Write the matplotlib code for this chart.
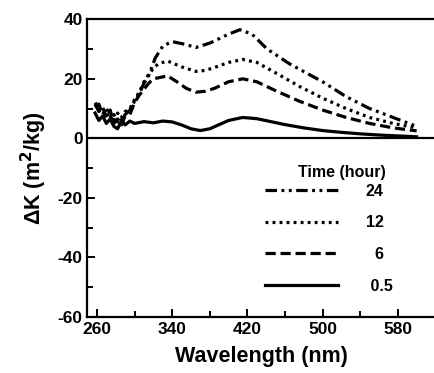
import matplotlib
matplotlib.use("Agg")
import matplotlib.pyplot as plt

plt.rcParams["font.family"] = ["Liberation Sans", "DejaVu Sans"]
plt.rcParams["font.weight"] = "bold"
plt.rcParams["axes.unicode_minus"] = False   # the original prints "-20", not a true minus

# --- data (wavelength nm, delta K m^2/kg) ---
wl_05 = [258, 262, 266, 270, 274, 278, 282, 286, 290, 295, 300, 310, 320, 330,
         340, 350, 360, 370, 380, 390, 400, 415, 430, 445, 460, 480, 500, 520,
         540, 560, 580, 600]
dk_05 = [8.5, 6.0, 7.5, 5.0, 6.5, 4.0, 3.2, 6.0, 4.5, 5.8, 5.0, 5.6, 5.2, 5.8,
         5.5, 4.5, 3.2, 2.6, 3.2, 4.6, 6.0, 7.0, 6.6, 5.6, 4.6, 3.5, 2.6, 2.0,
         1.5, 1.1, 0.8, 0.5]

wl_6 = [258, 262, 266, 270, 274, 278, 282, 286, 290, 295, 300, 305, 310, 315,
        320, 328, 335, 345, 355, 365, 375, 385, 400, 415, 430, 450, 475, 500,
        525, 550, 575, 600]
dk_6 = [11.5, 9.0, 10.5, 7.0, 9.5, 5.0, 6.5, 4.5, 7.5, 8.0, 12.0, 14.5, 16.5,
        18.5, 20.0, 20.5, 21.0, 19.0, 16.8, 15.5, 15.8, 16.8, 19.0, 20.0, 19.0,
        16.0, 12.5, 9.5, 7.0, 5.0, 3.5, 2.5]

wl_12 = [258, 262, 266, 270, 274, 278, 282, 286, 290, 295, 300, 305, 310, 315,
         320, 325, 335, 350, 365, 375, 385, 400, 415, 430, 450, 475, 500, 525,
         550, 575, 600]
dk_12 = [12.0, 10.0, 8.5, 9.5, 6.0, 8.0, 5.5, 7.0, 9.0, 10.0, 13.0, 15.5, 19.0,
         21.5, 23.5, 25.0, 26.0, 24.0, 22.5, 22.8, 23.8, 25.5, 26.5, 25.5, 22.0,
         17.5, 13.5, 10.0, 7.0, 5.0, 3.5]

wl_24 = [258, 262, 266, 270, 274, 278, 282, 286, 290, 295, 300, 305, 310, 315,
         322, 330, 340, 355, 365, 380, 400, 412, 425, 441, 465, 500, 525, 550,
         575, 600]
dk_24 = [10.5, 11.5, 8.0, 10.0, 7.5, 5.5, 8.5, 6.0, 8.0, 9.5, 12.5, 15.0, 18.5,
         21.0, 27.0, 31.0, 32.5, 31.5, 30.5, 32.0, 35.0, 36.5, 35.0, 30.0, 25.0,
         19.0, 14.0, 10.0, 7.0, 4.0]

labels = ["24", "12", "  6", " 0.5"]
x_major = [260, 340, 420, 500, 580]
x_minor = [300, 380, 460, 540, 620]

fig = plt.figure(figsize=(4.34, 3.73), dpi=100)
ax = fig.add_axes([87 / 434, (373 - 316.8) / 373, 349 / 434, (316.8 - 19.3) / 373])

lw = 2.3
l24, = ax.plot(wl_24, dk_24, color="black", lw=lw,
               linestyle=(0, (3.6, 1.4, 0.9, 1.4, 0.9, 1.4)))
l12, = ax.plot(wl_12, dk_12, color="black", lw=lw, linestyle=(0, (0.9, 1.3)))
l6, = ax.plot(wl_6, dk_6, color="black", lw=lw, linestyle=(0, (3.2, 1.5)))
l05, = ax.plot(wl_05, dk_05, color="black", lw=lw, linestyle="-")
ax.axhline(0, color="black", lw=1.6)

ax.set_xlim(249.4, 620.6)
ax.set_ylim(-60, 40)
ax.set_xticks(x_major)
ax.set_xticks(x_minor, minor=True)
ax.set_yticks(range(-60, 41, 20))
ax.set_yticks(range(-50, 40, 20), minor=True)
ax.tick_params(which="both", direction="in", width=1.4, labelsize=12.5)
ax.tick_params(which="major", length=6)
ax.tick_params(which="minor", length=4)
ax.tick_params(axis="x", pad=4)
ax.tick_params(axis="y", pad=3)
for s in ax.spines.values():
    s.set_linewidth(1.6)
for t in ax.get_xticklabels() + ax.get_yticklabels():
    t.set_fontweight("bold")

ax.set_xlabel("Wavelength (nm)", fontsize=15.5, fontweight="bold", labelpad=6)
ax.set_ylabel("ΔK (m$^\\mathbf{2}$/kg)", fontsize=15.5, fontweight="bold", labelpad=6)

ax.text(0.73, 0.485, "Time (hour)", transform=ax.transAxes, ha="center",
        va="center", fontsize=11.5, fontweight="bold")
ax.legend([l24, l12, l6, l05], labels, loc="upper left",
          bbox_to_anchor=(0.51, 0.448), frameon=False, handlelength=4.6,
          handletextpad=1.7, labelspacing=1.05, borderpad=0, borderaxespad=0,
          prop={"size": 11.5, "weight": "bold"})

fig.savefig("out.png", dpi=100)
